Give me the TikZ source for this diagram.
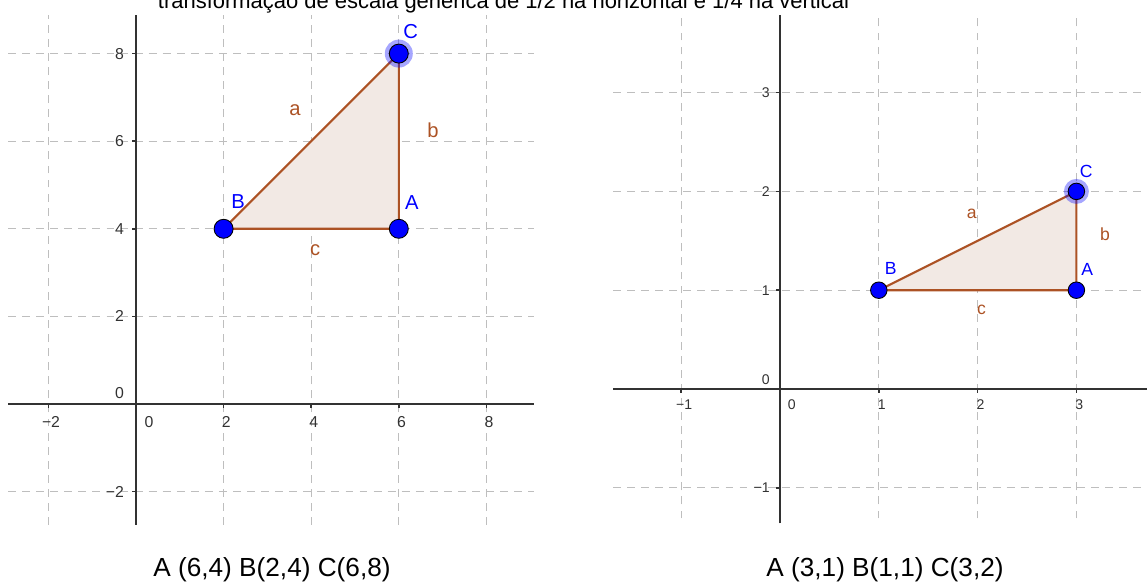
\documentclass[tikz,border=0pt]{standalone}
\usepackage{fontspec}
\setmainfont{Liberation Sans}
\usetikzlibrary{positioning}
\definecolor{seg}{RGB}{172,82,36}
\definecolor{tri}{RGB}{242,233,228}
\definecolor{pt}{RGB}{0,0,255}
\definecolor{gridc}{RGB}{190,190,190}
\definecolor{axisc}{RGB}{50,50,50}

\begin{document}
\begin{tikzpicture}[
    gridline/.style={draw=gridc, line width=0.6pt, dash pattern=on 4.5pt off 3.5pt},
    axisline/.style={draw=axisc, line width=0.9pt},
    side/.style={draw=seg, line width=1.2pt, fill=tri, line join=round},
    dot/.style={circle, fill=pt, draw=black, line width=0.5pt, inner sep=0pt, minimum size=#1},
    halo/.style={circle, fill=pt, opacity=0.35, inner sep=0pt, minimum size=#1},
    ptname/.style={text=pt, inner sep=0pt, font=\fontsize{#1}{#1}\selectfont},
    segname/.style={text=seg, inner sep=0pt, font=\fontsize{#1}{#1}\selectfont},
    ticklbl/.style={text=axisc, inner sep=0pt, font=\fontsize{#1}{#1}\selectfont},
    caption/.style={inner sep=0pt, font=\fontsize{#1}{#1}\selectfont}
]
\useasboundingbox (0,0) rectangle (22.94,11.68);

\node[caption=12.5, anchor=base] (title) at (10.07,11.5)
    {transformação de escala genérica de 1/2 na horizontal e 1/4 na vertical};

% figura original
\begin{scope}[shift={(2.72,3.6)}, x=0.876cm, y=0.876cm]
\draw[gridline] (-2.92,-2.76) grid[step=2] (9.09,8.88);
\draw[axisline] (-2.92,0) -- (9.09,0);
\draw[axisline] (0,-2.76) -- (0,8.88);
\foreach \t in {-2,2,4,6,8} {
    \draw[axisline] (\t,0) -- (\t,-0.09);
    \draw[axisline] (0,\t) -- (-0.09,\t);
}
\foreach \t/\s in {-2/−2,2/2,4/4,6/6,8/8} {
    \node[ticklbl=9] (xa\t) at (\t+0.06,-0.41) {\s};
    \node[ticklbl=9, anchor=east] (ya\t) at (-0.27,\t) {\s};
}
\node[ticklbl=9] (xa0) at (0.3,-0.41) {0};
\node[ticklbl=9, anchor=east] (ya0) at (-0.27,0.25) {0};

\coordinate (A) at (6,4);
\coordinate (B) at (2,4);
\coordinate (C) at (6,8);
\draw[side] (B) -- (A) -- (C) -- cycle;
\node[halo=0.56cm] (hC) at (C) {};
\node[dot=0.38cm] (pA) at (A) {};
\node[dot=0.38cm] (pB) at (B) {};
\node[dot=0.38cm] (pC) at (C) {};
\node[ptname=11.5] (lA) at (6.3,4.6) {A};
\node[ptname=11.5] (lB) at (2.33,4.62) {B};
\node[ptname=11.5] (lC) at (6.27,8.5) {C};
\node[segname=11.5] (sa) at (3.63,6.71) {a};
\node[segname=11.5] (sb) at (6.78,6.26) {b};
\node[segname=11.5] (sc) at (4.09,3.52) {c};
\end{scope}

% figura transformada
\begin{scope}[shift={(15.6,3.9)}, x=1.976cm, y=1.976cm]
\draw[gridline] (-1.69,-1.31) grid[step=1] (3.72,3.79);
\draw[axisline] (-1.69,0) -- (3.72,0);
\draw[axisline] (0,-1.36) -- (0,3.79);
\foreach \t in {-1,1,2,3} {
    \draw[axisline] (\t,0) -- (\t,-0.04);
    \draw[axisline] (0,\t) -- (-0.04,\t);
}
\foreach \t/\s in {-1/−1,1/1,2/2,3/3} {
    \node[ticklbl=8] (xb\t) at (\t+0.03,-0.16) {\s};
    \node[ticklbl=8, anchor=east] (yb\t) at (-0.1,\t) {\s};
}
\node[ticklbl=8] (xb0) at (0.12,-0.16) {0};
\node[ticklbl=8, anchor=east] (yb0) at (-0.1,0.09) {0};

\coordinate (A2) at (3,1);
\coordinate (B2) at (1,1);
\coordinate (C2) at (3,2);
\draw[side] (B2) -- (A2) -- (C2) -- cycle;
\node[halo=0.5cm] (hC2) at (C2) {};
\node[dot=0.33cm] (pA2) at (A2) {};
\node[dot=0.33cm] (pB2) at (B2) {};
\node[dot=0.33cm] (pC2) at (C2) {};
\node[ptname=10] (lA2) at (3.11,1.21) {A};
\node[ptname=10] (lB2) at (1.12,1.22) {B};
\node[ptname=10] (lC2) at (3.1,2.2) {C};
\node[segname=10] (sa2) at (1.94,1.77) {a};
\node[segname=10] (sb2) at (3.29,1.57) {b};
\node[segname=10] (sc2) at (2.04,0.8) {c};
\end{scope}

\node[caption=14.9] (capA) at (5.44,0.28) {A (6,4) B(2,4) C(6,8)};
\node[caption=14.9] (capB) at (17.7,0.28) {A (3,1) B(1,1) C(3,2)};
\end{tikzpicture}
\end{document}
